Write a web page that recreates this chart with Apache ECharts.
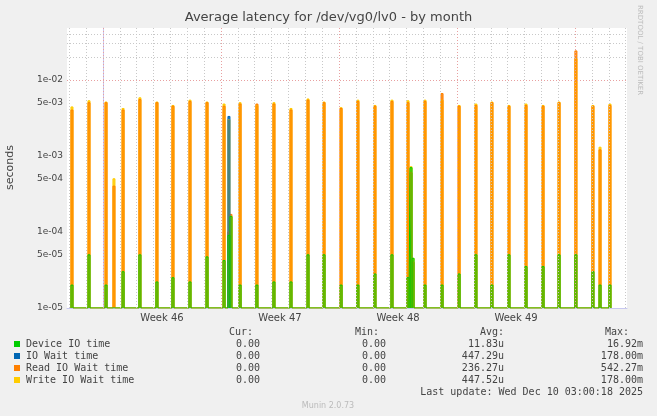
<!DOCTYPE html>
<html>
<head>
<meta charset="utf-8">
<title>Average latency</title>
<script src="https://cdn.jsdelivr.net/npm/echarts@6/dist/echarts.min.js"></script>
<style>html,body{margin:0;background:#f0f0f0;}#chart{width:657px;height:416px;}</style>
</head>
<body>
<div id="chart"></div>
<script>
// spike positions in days (0 = start of week 46)
var spikeDays = [-1.84,-0.83,0.18,0.65,1.19,2.19,3.20,4.15,5.16,6.17,7.18,7.47,7.59,8.13,9.13,10.14,11.15,12.16,13.11,14.12,15.12,16.13,17.14,18.09,18.27,18.39,19.10,20.11,21.12,22.12,23.07,24.08,25.09,26.10,27.05,28.05,29.06,29.48,30.07];
var writePeak = [4.4e-3,5.3e-3,5.1e-3,5e-4,4.2e-3,5.8e-3,5.1e-3,4.6e-3,5.4e-3,5.1e-3,4.8e-3,3.0e-3,1.6e-4,5e-3,4.6e-3,5e-3,4.2e-3,5.6e-3,5.1e-3,4.3e-3,5.4e-3,4.6e-3,5.4e-3,5.3e-3,7.2e-4,4.5e-5,5.4e-3,5.4e-3,4.6e-3,4.8e-3,5.1e-3,4.6e-3,4.8e-3,4.6e-3,5.1e-3,1.9e-2,4.6e-3,1.3e-3,4.8e-3];
var readPeak = [4.0e-3,5.0e-3,5.0e-3,4e-4,4.0e-3,5.5e-3,5.0e-3,4.5e-3,5.2e-3,5.0e-3,4.5e-3,1.0e-4,1.7e-4,4.8e-3,4.8e-3,4.8e-3,4.0e-3,5.4e-3,5.0e-3,4.2e-3,5.2e-3,4.5e-3,5.2e-3,5.0e-3,6e-4,4e-5,5.2e-3,6.6e-3,4.5e-3,4.6e-3,5.0e-3,4.5e-3,4.6e-3,4.5e-3,5.0e-3,2.4e-2,4.5e-3,1.2e-3,4.6e-3];
var ioWaitPeak = [0,0,0,0,0,0,0,0,0,0,0,3.3e-3,0,0,0,0,0,0,0,0,0,0,0,0,0,0,0,0,0,0,0,0,0,0,0,0,0,0,0];
var devicePeak = [2e-5,5e-5,2e-5,0,3e-5,5e-5,2.2e-5,2.5e-5,2.2e-5,4.7e-5,4.2e-5,9e-5,1.6e-4,2e-5,2e-5,2.2e-5,2.2e-5,5e-5,5e-5,2e-5,2e-5,2.8e-5,5e-5,2.5e-5,7e-4,4.5e-5,2e-5,2e-5,2.8e-5,5e-5,2e-5,5e-5,3.5e-5,3.5e-5,5e-5,5e-5,3e-5,2e-5,2e-5];
var yTicks = [1e-5,5e-5,1e-4,5e-4,1e-3,5e-3,1e-2];
var yTickLabels = ['1e-05','5e-05','1e-04','5e-04','1e-03','5e-03','1e-02'];
var weekCenters = [3.5,10.5,17.5,24.5];
var weekLabels = ['Week 46','Week 47','Week 48','Week 49'];
var legendRows = [
  ['Device IO time','0.00','0.00','11.83u','16.92m'],
  ['IO Wait time','0.00','0.00','447.29u','178.00m'],
  ['Read IO Wait time','0.00','0.00','236.27u','542.27m'],
  ['Write IO Wait time','0.00','0.00','447.52u','178.00m']
];
var colors = ['#00cc00','#0066b3','#ff8000','#ffcc00'];

var FLOOR = 1e-5, HW = 0.06;
function spikes(peaks) {
  var d = [];
  spikeDays.forEach(function (x, i) {
    var v = peaks[i];
    if (!v) return;
    d.push([x - HW, FLOOR], [x - HW, v], [x + HW, v], [x + HW, FLOOR]);
  });
  return d;
}

// grid lines
var minorY = [];
[1e-5,1e-4,1e-3,1e-2].forEach(function (b) {
  for (var k = 2; k <= 9; k++) if (k != 5 && b * k < 0.048) minorY.push(b * k);
});
var dayLines = [];
for (var i = -2; i <= 31; i++) if (i % 7 != 0) dayLines.push(i);
var weekLines = [0,7,14,21,28];

function grid(vals, key, color) {
  return {
    type: 'line', data: [[0, 1e-3]], symbol: 'none', silent: true, z: 1,
    lineStyle: { opacity: 0 },
    markLine: {
      symbol: 'none', silent: true, label: { show: false }, animation: false,
      lineStyle: { type: [1, 2], width: 1, color: color },
      data: vals.map(function (v) { var o = {}; o[key] = v; return o; })
    }
  };
}

var names = ['Device IO time','IO Wait time','Read IO Wait time','Write IO Wait time'];
var peaksList = [devicePeak, ioWaitPeak, readPeak, writePeak];
var series = [
  grid(minorY, 'yAxis', '#c8c8c8'),
  grid(dayLines, 'xAxis', '#c8c8c8'),
  grid(yTicks, 'yAxis', '#e8a0a0'),
  grid(weekLines, 'xAxis', '#e8a0a0')
];
[3, 2, 1, 0].forEach(function (k) {
  series.push({
    name: names[k], type: 'line', data: spikes(peaksList[k]), symbol: 'none', z: 3,
    lineStyle: { color: colors[k], width: 1 },
    areaStyle: { color: colors[k], opacity: 0.85, origin: 'start' }
  });
});

var graphic = [
  { type: 'text', left: 'center', top: 11, style: { text: 'Average latency for /dev/vg0/lv0 - by month', font: '13px "DejaVu Sans"', fill: '#444' } },
  { type: 'text', x: 5, y: 190, rotation: Math.PI / 2, style: { text: 'seconds', font: '11px "DejaVu Sans"', fill: '#444' } },
  { type: 'text', x: 643, y: 5, rotation: -Math.PI / 2, style: { text: 'RRDTOOL / TOBI OETIKER', font: '7px "DejaVu Sans"', fill: '#bbb' } },
  { type: 'text', x: 328, y: 402, style: { text: 'Munin 2.0.73', font: '8px "DejaVu Sans"', fill: '#bbb', align: 'center' } },
  { type: 'text', x: 253, y: 327, style: { text: 'Cur:', font: '10px "DejaVu Sans Mono"', fill: '#444', align: 'right' } },
  { type: 'text', x: 379, y: 327, style: { text: 'Min:', font: '10px "DejaVu Sans Mono"', fill: '#444', align: 'right' } },
  { type: 'text', x: 504, y: 327, style: { text: 'Avg:', font: '10px "DejaVu Sans Mono"', fill: '#444', align: 'right' } },
  { type: 'text', x: 629, y: 327, style: { text: 'Max:', font: '10px "DejaVu Sans Mono"', fill: '#444', align: 'right' } },
  { type: 'text', x: 643, y: 387, style: { text: 'Last update: Wed Dec 10 03:00:18 2025', font: '10px "DejaVu Sans Mono"', fill: '#444', align: 'right' } }
];
var colX = [260, 386, 504, 643];
legendRows.forEach(function (r, i) {
  var y = 339 + i * 12;
  graphic.push({ type: 'rect', shape: { x: 14, y: y + 2, width: 6, height: 6 }, style: { fill: colors[i] } });
  graphic.push({ type: 'text', x: 26, y: y, style: { text: r[0], font: '10px "DejaVu Sans Mono"', fill: '#444' } });
  for (var c = 0; c < 4; c++) {
    graphic.push({ type: 'text', x: colX[c], y: y, style: { text: r[c + 1], font: '10px "DejaVu Sans Mono"', fill: '#444', align: 'right' } });
  }
});

var chart = echarts.init(document.getElementById('chart'));
chart.setOption({
  backgroundColor: '#f0f0f0',
  animation: false,
  grid: { left: 67, right: 30, top: 28, bottom: 108, backgroundColor: '#fff', show: true, borderWidth: 0 },
  xAxis: {
    type: 'value', min: -2.135, max: 31.08,
    axisLine: { lineStyle: { color: '#c8c8f0' } },
    axisTick: { show: false }, splitLine: { show: false },
    axisLabel: {
      customValues: weekCenters, color: '#444', fontFamily: 'DejaVu Sans', fontSize: 10, margin: 5,
      formatter: function (v) { return weekLabels[weekCenters.indexOf(v)] || ''; }
    }
  },
  yAxis: {
    type: 'log', min: 1e-5, max: 0.048, logBase: 10,
    axisLine: { show: true, lineStyle: { color: '#c8c8f0' } },
    axisTick: { show: false }, splitLine: { show: false },
    axisLabel: {
      customValues: yTicks, color: '#444', fontFamily: 'DejaVu Sans', fontSize: 9, margin: 4,
      formatter: function (v) {
        for (var i = 0; i < yTicks.length; i++) if (Math.abs(v / yTicks[i] - 1) < 1e-6) return yTickLabels[i];
        return '';
      }
    }
  },
  series: series,
  graphic: graphic
});
</script>
</body>
</html>
